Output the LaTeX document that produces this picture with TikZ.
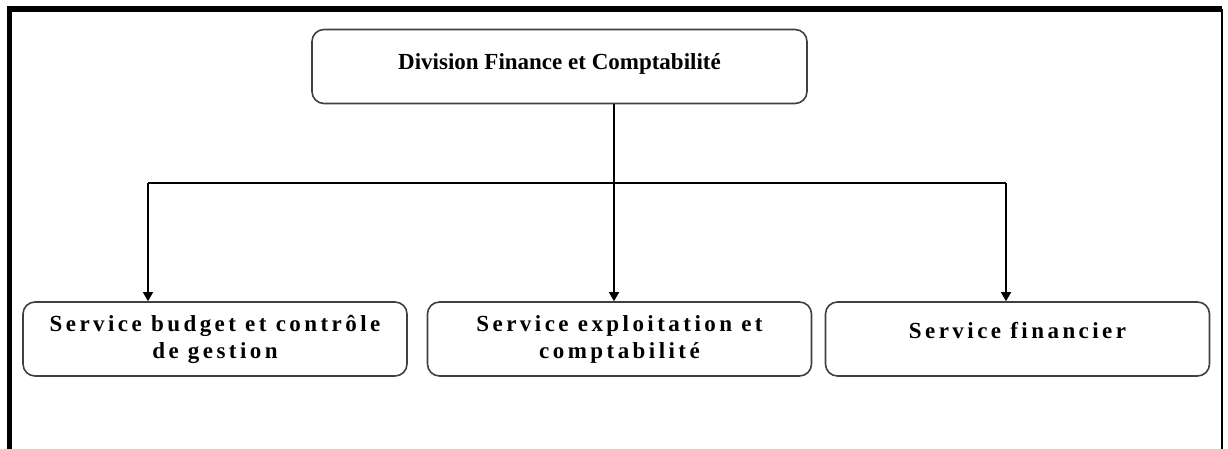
\documentclass[tikz,border=0pt]{standalone}
\usepackage{fontspec}
\setmainfont{Liberation Serif}
\newfontfamily\widefont[LetterSpace=15]{Liberation Serif}
\usetikzlibrary{arrows.meta}
\begin{document}
\begin{tikzpicture}[x=1pt,y=-1pt,
  thick,main node/.style={draw=black!75,line width=1.6pt,rounded corners=12pt,
    font=\bfseries\fontsize{23}{27}\selectfont,minimum height=74pt,align=center},
  sub node/.style={main node,minimum width=384pt,
    font=\widefont\bfseries\fontsize{23}{27}\selectfont},
  link/.style={line width=1.5pt},
  arrow/.style={link,-{Triangle[length=9pt,width=10pt]}}]

  \useasboundingbox (0,0) rectangle (1228,448);
  \clip (0,0) rectangle (1228,448);

  % frame
  \draw[line width=5.5pt] (9.5,470) -- (9.5,9) -- (1222,9);
  \draw[line width=2.5pt] (1222,9) -- (1222,470);

  \node[main node,minimum width=495pt,text depth=9pt] (0) at (559.5,66.5) {Division Finance et Comptabilité};
  \node[sub node] (1) at (215,339) {Service budget et contrôle\\de gestion};
  \node[sub node] (2) at (619.5,339) {Service exploitation et\\comptabilité};
  \node[sub node,text depth=17pt] (3) at (1017.5,339) {Service financier};

  \coordinate (j) at (614,183);
  \coordinate (a1) at (148,183);
  \coordinate (a3) at (1006,183);

  \draw[link] (0.south -| j) -- (j);
  \draw[link] (a1) -- (a3);
  \draw[arrow] (a1) -- (a1 |- 1.north);
  \draw[arrow] (j) -- (j |- 2.north);
  \draw[arrow] (a3) -- (a3 |- 3.north);
\end{tikzpicture}
\end{document}
